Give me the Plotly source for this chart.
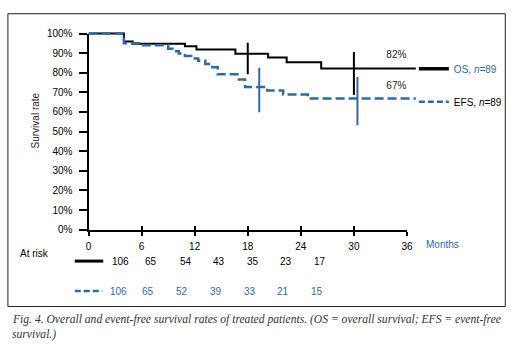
import plotly.graph_objects as go

W, H = 527, 356
BLUE = "#2f6aa7"
FONT = "Liberation Sans"

# ---- data ----
os_months = [0, 4.0, 5.0, 10.9, 12.2, 16.6, 20.3, 22.4, 26.3, 37]
os_surv = [100, 96, 94.8, 93.5, 91.8, 89.7, 87.8, 85.3, 82.2, 82.2]

efs_months = [0, 4.0, 5.9, 9.0, 9.5, 10.2, 10.9, 11.6, 12.4, 13.2, 14.0, 14.6, 17.0, 17.7, 20.2, 22.0, 24.8, 37]
efs_surv = [100, 95.1, 94.0, 92.2, 91.0, 89.8, 88.6, 87.3, 86.1, 84.5, 82.8, 79.2, 76.6, 72.8, 71.0, 68.9, 66.9, 66.9]

# confidence bars at landmark times
os_ci_x = [18.0, 30.0]
os_ci_lo = [79.3, 68.7]
os_ci_hi = [95.3, 90.6]
efs_ci_x = [19.3, 30.4]
efs_ci_lo = [59.9, 53.3]
efs_ci_hi = [82.5, 77.9]

final_labels = ["82%", "67%"]
final_label_y = [88.9, 73.1]
final_label_x = 34.8

x_ticks = [0, 6, 12, 18, 24, 30, 36]
y_ticks = list(range(0, 101, 10))
y_ticktext = [f"{v}%" for v in y_ticks]

risk_os = [106, 65, 54, 43, 35, 23, 17]
risk_efs = [106, 65, 52, 39, 33, 21, 15]
risk_os_px = [120, 151, 186, 220, 254, 288, 322]
risk_efs_px = [117, 148, 182, 217, 251, 285, 319]

caption1 = "Fig. 4. Overall and event-free survival rates of treated patients. (OS = overall survival; EFS = event-free"
caption2 = "survival.)"


def fx(p):
    return p / W


def fy(p):
    return 1 - p / H


def vbars(xs, lo, hi):
    X, Y = [], []
    for x, a, b in zip(xs, lo, hi):
        X += [x, x, None]
        Y += [a, b, None]
    return X, Y


fig = go.Figure()

# curves
fig.add_trace(go.Scatter(x=os_months, y=os_surv, mode="lines", line=dict(color="black", width=2, shape="hv"),
                         showlegend=False, xaxis="x", yaxis="y"))
fig.add_trace(go.Scatter(x=efs_months, y=efs_surv, mode="lines",
                         line=dict(color=BLUE, width=2.5, shape="hv", dash="9px,4px"),
                         showlegend=False, xaxis="x", yaxis="y"))
bx, by = vbars(os_ci_x, os_ci_lo, os_ci_hi)
fig.add_trace(go.Scatter(x=bx, y=by, mode="lines", line=dict(color="black", width=2), showlegend=False,
                         xaxis="x", yaxis="y"))
bx, by = vbars(efs_ci_x, efs_ci_lo, efs_ci_hi)
fig.add_trace(go.Scatter(x=bx, y=by, mode="lines", line=dict(color=BLUE, width=2), showlegend=False,
                         xaxis="x", yaxis="y"))
fig.add_trace(go.Scatter(x=[final_label_x] * 2, y=final_label_y, mode="text", text=final_labels,
                         textfont=dict(family=FONT, size=10, color="#222"), showlegend=False,
                         xaxis="x", yaxis="y"))

# legend entries
fig.add_trace(go.Scatter(x=[None], y=[None], mode="lines", line=dict(color="black", width=3.5),
                         name=f'<span style="color:{BLUE}">OS, <i>n</i>=89</span>', legendgroup="a",
                         xaxis="x", yaxis="y"))
fig.add_trace(go.Scatter(x=[None], y=[None], mode="lines", line=dict(color=BLUE, width=2.5, dash="6px,3px"),
                         name="EFS, <i>n</i>=89", legendgroup="b", xaxis="x", yaxis="y"))

# dummy traces for the visible axes
fig.add_trace(go.Scatter(x=[0], y=[0], mode="markers", marker=dict(opacity=0), showlegend=False,
                         hoverinfo="skip", xaxis="x2", yaxis="y2"))
fig.add_trace(go.Scatter(x=[0], y=[0], mode="markers", marker=dict(opacity=0), showlegend=False,
                         hoverinfo="skip", xaxis="x3", yaxis="y2"))

shapes = [
    dict(type="rect", xref="paper", yref="paper", x0=fx(5), x1=fx(511), y0=fy(311), y1=fy(8),
         line=dict(color="#222", width=1)),
    dict(type="line", xref="paper", yref="paper", x0=fx(73), x1=fx(102), y0=fy(264), y1=fy(264),
         line=dict(color="black", width=3)),
    dict(type="line", xref="paper", yref="paper", x0=fx(73), x1=fx(101), y0=fy(295), y1=fy(295),
         line=dict(color=BLUE, width=2.5, dash="6px,3px")),
]


def note(px, py, text, color="black", size=10, family=FONT, xanchor="center", **kw):
    return dict(x=fx(px), y=fy(py), xref="paper", yref="paper", text=text, showarrow=False,
                xanchor=xanchor, yanchor="middle", font=dict(family=family, size=size, color=color), **kw)


ann = []
for v, p in zip(risk_os, risk_os_px):
    ann.append(note(p, 264, str(v)))
for v, p in zip(risk_efs, risk_efs_px):
    ann.append(note(p, 295, str(v), color=BLUE))
ann.append(note(15, 256, "At risk", xanchor="left"))
ann.append(note(428, 247, "Months", color=BLUE, xanchor="left"))
ann.append(note(33, 118, "Survival rate", color="#222", textangle=-90))
ann.append(note(7, 324, "<i>" + caption1 + "</i>", color="#333", size=11.6, family="Liberation Serif",
                xanchor="left"))
ann.append(note(7, 340, "<i>" + caption2 + "</i>", color="#333", size=11.6, family="Liberation Serif",
                xanchor="left"))

fig.update_layout(
    width=W, height=H, autosize=False,
    margin=dict(l=0, r=0, t=0, b=0),
    paper_bgcolor="white", plot_bgcolor="rgba(0,0,0,0)",
    font=dict(family=FONT, size=10, color="black"),
    shapes=shapes, annotations=ann,
    xaxis=dict(domain=[fx(87), fx(511)], range=[0, (511 - 87) / 9], visible=False, anchor="y"),
    yaxis=dict(domain=[fy(231.5), fy(8)], range=[0, (231.5 - 8) / 2.03], visible=False, anchor="x"),
    xaxis2=dict(domain=[fx(87), fx(411)], range=[0, 36], anchor="y2", showline=True, linecolor="black",
                linewidth=2, ticks="outside", ticklen=4, tickwidth=2, tickcolor="black",
                tickvals=x_ticks, showgrid=False, zeroline=False, tickfont=dict(size=10),
                ticklabelstandoff=2),
    xaxis3=dict(domain=[fx(87), fx(411)], range=[0, 36], anchor="y2", overlaying="x2", showline=False,
                ticks="inside", ticklen=4, tickwidth=2, tickcolor="black", tickvals=x_ticks,
                showticklabels=False, showgrid=False, zeroline=False),
    yaxis2=dict(domain=[fy(231.5), fy(28.5)], range=[0, 100], anchor="x2", showline=True, linecolor="black",
                linewidth=2, ticks="outside", ticklen=8, tickwidth=2, tickcolor="black",
                tickvals=y_ticks, ticktext=y_ticktext, showgrid=False, zeroline=False,
                tickfont=dict(size=10), ticklabelstandoff=4),
    showlegend=True,
    legend=dict(x=fx(418), y=fy(50), xanchor="left", yanchor="top", bgcolor="rgba(0,0,0,0)",
                font=dict(family=FONT, size=10, color="black"), tracegroupgap=14, traceorder="grouped"),
)

fig.write_html("out.html", config={"displayModeBar": False},
               post_script="document.body.style.margin='0';")
